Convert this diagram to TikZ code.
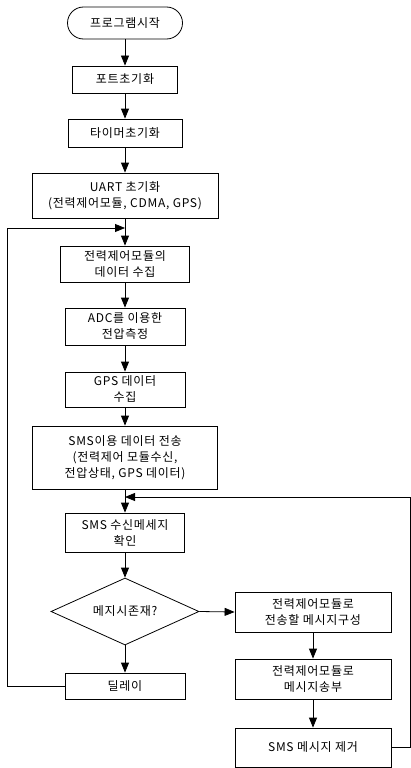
\documentclass[tikz,border=0pt]{standalone}
\usepackage{fontspec}
\setmainfont[LetterSpace=6]{Noto Sans CJK KR}
\usetikzlibrary{shapes.geometric, arrows.meta}

\begin{document}
\begin{tikzpicture}[
  x=1pt, y=-1pt,
  every node/.style={font=\fontsize{12}{16}\selectfont},
  box/.style={draw, rectangle, line width=0.8pt, align=center, inner sep=0pt},
  term/.style={box, rounded corners=16pt},
  decision/.style={draw, diamond, line width=0.8pt, align=center, inner sep=0pt, aspect=2.2},
  flow/.style={line width=0.8pt, -{Triangle[length=10pt, width=8pt]}},
]
\useasboundingbox (0,0) rectangle (411,768);

% ================================================================
% Main column
% ================================================================
\node[term, minimum width=115pt, minimum height=32pt] (start)   at (125,23)    {프로그램시작};
\node[box,  minimum width=105pt, minimum height=27pt] (port)    at (125,79.5)  {포트초기화};
\node[box,  minimum width=114pt, minimum height=28pt] (timer)   at (125,133)   {타이머초기화};
\node[box,  minimum width=186pt, minimum height=45pt] (uart)    at (125,195.5) {UART 초기화\\(전력제어모듈, CDMA, GPS)};
\node[box,  minimum width=129pt, minimum height=36pt] (collect) at (125,264)   {전력제어모듈의\\데이터 수집};
\node[box,  minimum width=120pt, minimum height=37pt] (adc)     at (125,326.5) {ADC를 이용한\\전압측정};
\node[box,  minimum width=120pt, minimum height=35pt] (gps)     at (125,389.5) {GPS 데이터\\수집};
\node[box,  minimum width=185pt, minimum height=63pt] (smssend) at (125,457.5) {SMS이용 데이터 전송\\(전력제어 모듈수신,\\전압상태, GPS 데이터)};
\node[box,  minimum width=119pt, minimum height=39pt] (smsrecv) at (125,532.5) {SMS 수신메세지\\확인};
\node[decision, minimum width=148pt, minimum height=67pt] (decide) at (125,611.5) {메지시존재?};
\node[box,  minimum width=120pt, minimum height=26pt] (delay)   at (125,686)   {딜레이};

% ================================================================
% Right column
% ================================================================
\node[box, minimum width=156pt, minimum height=40pt] (compose) at (313,612)   {전력제어모듈로\\전송할 메시지구성};
\node[box, minimum width=156pt, minimum height=40pt] (send)    at (313,679)   {전력제어모듈로\\메시지송부};
\node[box, minimum width=156pt, minimum height=39pt] (remove)  at (313,747.5) {SMS 메시지 제거};

% --- Junctions for the two loops ---
\coordinate (jA)    at (125,228);
\coordinate (jB)    at (125,497);
\coordinate (loopL) at (7,228);
\coordinate (loopR) at (410.5,497);

% --- Straight arrows ---
\foreach \a/\b in {start/port, port/timer, timer/uart, uart/collect, collect/adc,
                   adc/gps, gps/smssend, smssend/smsrecv, smsrecv/decide,
                   decide/delay, compose/send, send/remove}
  \draw[flow] (\a) -- (\b);
\draw[flow] (decide.east) -- (compose.west);

% --- Loops back ---
\draw[flow] (delay.west) -| (loopL) -- (jA);
\draw[flow] (remove.east) -| (loopR) -- (jB);

\end{tikzpicture}
\end{document}
